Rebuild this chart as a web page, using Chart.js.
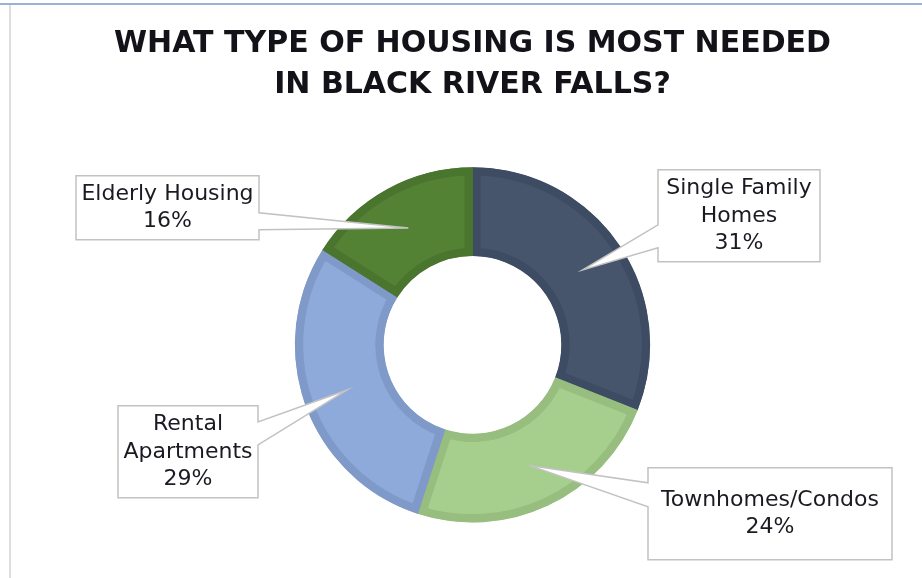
<!DOCTYPE html>
<html>
<head>
<meta charset="utf-8">
<title>Housing survey</title>
<script src="https://cdn.jsdelivr.net/npm/chart.js@4.4.1/dist/chart.umd.min.js"></script>
<style>
    html, body { margin: 0; padding: 0; background: #fff; }
    #wrap { position: relative; width: 922px; height: 578px; overflow: hidden; }
    #topRule { position: absolute; left: 0; top: 3px; width: 922px; height: 2px; background: #97b2d4; }
    #leftRule { position: absolute; left: 9px; top: 5px; width: 2px; height: 573px; background: #dedede; }
    #housingChart { position: absolute; left: 0; top: 0; }
</style>
</head>
<body>
<div id="wrap">
    <canvas id="housingChart" width="922" height="578"></canvas>
    <div id="topRule"></div>
    <div id="leftRule"></div>
</div>
<script>
// survey answers, clockwise from 12 o'clock
var categories = [
    ['Single Family', 'Homes'],
    ['Townhomes/Condos'],
    ['Rental', 'Apartments'],
    ['Elderly Housing'],
];
var shares = [31, 24, 29, 16];
var fillColors = ['#46556c', '#a6cf8e', '#8eaadb', '#548235'];
var edgeColors = ['#3d4c63', '#97bd7f', '#7f99c8', '#4a752f'];

// callout boxes, offsets from the doughnut centre; pin = where the pointer leaves the box edge
var callouts = [
    { dx: 185.5, dy: -175, w: 162, h: 92, pin: [55, 78] },
    { dx: 175.5, dy: 123, w: 244, h: 92, pin: [15, 39] },
    { dx: -354.5, dy: 61, w: 140, h: 92, pin: [16, 39] },
    { dx: -396.5, dy: -169, w: 183, h: 64, pin: [37, 54] },
];

var calloutPlugin = {
    id: 'callouts',
    afterDatasetsDraw: function(chart) {
        var ctx = chart.ctx;
        var meta = chart.getDatasetMeta(0);
        meta.data.forEach(function(arc, i) {
            var c = callouts[i];
            var tip = arc.tooltipPosition();
            var x = arc.x + c.dx, y = arc.y + c.dy;
            var a = y + c.pin[0], b = y + c.pin[1];

            ctx.save();
            ctx.beginPath();
            if (tip.x > x + c.w) {
                // pointer on the right edge
                ctx.moveTo(x, y);
                ctx.lineTo(x + c.w, y);
                ctx.lineTo(x + c.w, a);
                ctx.lineTo(tip.x, tip.y);
                ctx.lineTo(x + c.w, b);
                ctx.lineTo(x + c.w, y + c.h);
                ctx.lineTo(x, y + c.h);
            } else {
                // pointer on the left edge
                ctx.moveTo(x, y);
                ctx.lineTo(x + c.w, y);
                ctx.lineTo(x + c.w, y + c.h);
                ctx.lineTo(x, y + c.h);
                ctx.lineTo(x, b);
                ctx.lineTo(tip.x, tip.y);
                ctx.lineTo(x, a);
            }
            ctx.closePath();
            ctx.fillStyle = '#ffffff';
            ctx.fill();
            ctx.lineWidth = 1.5;
            ctx.lineJoin = 'miter';
            ctx.strokeStyle = '#c2c2c2';
            ctx.stroke();

            var lines = categories[i].concat([shares[i] + '%']);
            var step = 27.5;
            var y0 = y + c.h / 2 - (lines.length - 1) * step / 2;
            ctx.font = '22px "DejaVu Sans", sans-serif';
            ctx.fillStyle = '#1a1a22';
            ctx.textAlign = 'center';
            ctx.textBaseline = 'middle';
            lines.forEach(function(t, k) {
                ctx.fillText(t, x + c.w / 2, y0 + k * step);
            });
            ctx.restore();
        });
    }
};

var housingChartCanvas = document.getElementById('housingChart').getContext('2d');
var housingChart = new Chart(housingChartCanvas, {
    type: 'doughnut',
    data: {
        labels: categories,
        datasets: [{
            data: shares,
            backgroundColor: fillColors,
            borderColor: edgeColors,
            borderWidth: 8,
            borderAlign: 'inner',
            borderJoinStyle: 'miter',
            hoverOffset: 0,
            offset: 0,
        }],
    },
    options: {
        responsive: false,
        animation: false,
        cutout: '50%',
        layout: {
            padding: { top: 0, bottom: 55.5, left: 23, right: 0 },
        },
        plugins: {
            legend: { display: false },
            tooltip: { enabled: false },
            title: {
                display: true,
                text: ['WHAT TYPE OF HOUSING IS MOST NEEDED', 'IN BLACK RIVER FALLS?'],
                color: '#121218',
                font: { family: '"DejaVu Sans", sans-serif', size: 30, weight: 'bold', lineHeight: 1.37 },
                padding: { top: 24, bottom: 61 },
            },
        },
    },
    plugins: [calloutPlugin],
});
</script>
</body>
</html>
